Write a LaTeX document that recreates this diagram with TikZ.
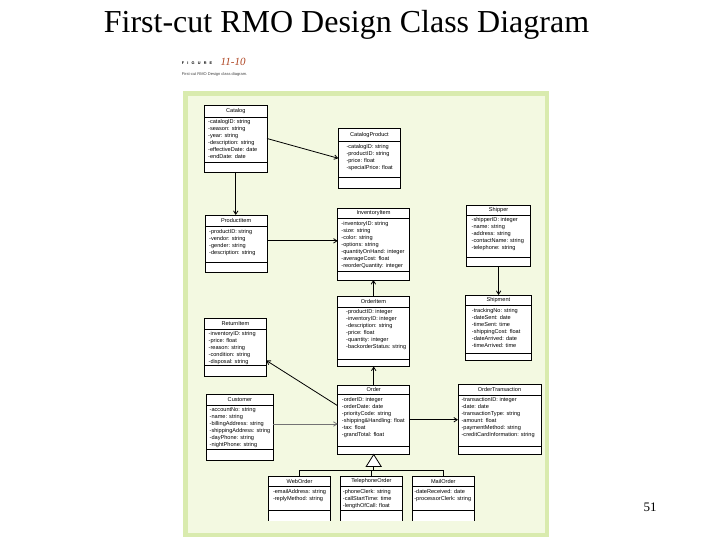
\documentclass[tikz,border=0pt]{standalone}
\usepackage{fontspec}
\setmainfont{Liberation Serif}
\newfontfamily\umlfont{Liberation Sans}
\usetikzlibrary{arrows.meta}
\definecolor{panelouter}{HTML}{D9EBAE}
\definecolor{panelinner}{HTML}{F3F9E1}
\definecolor{figred}{RGB}{175,70,35}
\tikzset{
  classframe/.style={draw=black, line width=0.8pt, fill=white, inner sep=0pt, outer sep=0pt},
  openframe/.style={draw=none, fill=white, inner sep=0pt, outer sep=0pt},
  classline/.style={draw=black, line width=0.8pt},
  cname/.style={font=\umlfont\fontsize{5.6}{7}\selectfont, inner sep=0pt},
  attrs/.style={font=\umlfont\fontsize{5.6}{7}\selectfont, align=left, inner sep=0pt, anchor=north west},
  assoc/.style={line width=0.8pt, -{Straight Barb[length=3.5pt,width=4.5pt]}},
  genline/.style={line width=0.8pt},
}
\def\attrinset{3.5}
% id, left, top, right, header-bottom, attr-bottom, bottom, title, attributes
\newcommand\umlclass[9]{%
  \node[classframe, minimum width={(#4)-(#2)}, minimum height={(#7)-(#3)}] (#1) at ({((#2)+(#4))/2},{((#3)+(#7))/2}) {};
  \draw[classline] (#2,#5) -- (#4,#5) (#2,#6) -- (#4,#6);
  \node[cname] (#1-name) at ({((#2)+(#4))/2},{((#5)+(#3))/2}) {#8};
  \node[attrs] (#1-attr) at ({(#2)+\attrinset},{(#5)+2.5}) {#9};
}
\newcommand\umlsub[9]{%
  \node[openframe, minimum width={(#4)-(#2)}, minimum height={(#7)-(#3)}] (#1) at ({((#2)+(#4))/2},{((#3)+(#7))/2}) {};
  \draw[classline] (#1.south west) -- (#1.north west) -- (#1.north east) -- (#1.south east);
  \draw[classline] (#2,#5) -- (#4,#5) (#2,#6) -- (#4,#6);
  \node[cname] (#1-name) at ({((#2)+(#4))/2},{((#5)+(#3))/2}) {#8};
  \node[attrs] (#1-attr) at ({(#2)+\attrinset},{(#5)+2.5}) {#9};
}
\begin{document}
\begin{tikzpicture}[x=1pt,y=-1pt]
\useasboundingbox (0,0) rectangle (720,540);
\fill[white] (0,0) rectangle (720,540);

% title
\node[font=\fontsize{32}{36}\selectfont, anchor=base, inner sep=0pt] (title) at (346.5,33) {First-cut RMO Design Class Diagram};
\node[font=\umlfont\bfseries\fontsize{3.8}{4}\selectfont, anchor=base west, inner sep=0pt] (figword) at (181.7,64.5)
  {F\hspace{3.2pt}I\hspace{3.2pt}G\hspace{3.2pt}U\hspace{3.2pt}R\hspace{3.2pt}E};
\node[font=\itshape\fontsize{11}{12}\selectfont, text=figred, anchor=base west, inner sep=0pt] (fignum) at (220.5,65.5) {11-10};
\node[font=\umlfont\fontsize{4}{5}\selectfont, text=black!75, anchor=base west, inner sep=0pt] (figcap) at (181.7,75.5) {First-cut RMO Design class diagram.};
\node[font=\fontsize{13}{15}\selectfont, inner sep=0pt] (pagenum) at (650,507) {51};

% panel
\fill[panelouter] (183,91) rectangle (549,537);
\fill[panelinner] (188,96) rectangle (545,533);

% classes
\umlclass{catalog}{204.5}{105}{267}{117}{162}{172}{Catalog}
  {-catalogID: string\\-season: string\\-year: string\\-description: string\\-effectiveDate: date\\-endDate: date}
\def\attrinset{8}
\umlclass{catalogproduct}{338.3}{128.3}{400.7}{141.7}{177.3}{188.3}{CatalogProduct}
  {-catalogID: string\\-productID: string\\-price: float\\-specialPrice: float}
\def\attrinset{4}
\umlclass{productitem}{205}{215}{267.3}{226.7}{262.7}{272.7}{ProductItem}
  {-productID: string\\-vendor: string\\-gender: string\\-description: string}
\def\attrinset{3.5}
\umlclass{inventoryitem}{337.7}{208.3}{409.3}{218.3}{271}{280}{InventoryItem}
  {-inventoryID: string\\-size: string\\-color: string\\-options: string\\-quantityOnHand: integer\\-averageCost: float\\-reorderQuantity: integer}
\def\attrinset{5}
\umlclass{shipper}{466.5}{205}{530.7}{215}{257.3}{266.7}{Shipper}
  {-shipperID: integer\\-name: string\\-address: string\\-contactName: string\\-telephone: string}
\def\attrinset{6}
\umlclass{shipment}{465.7}{295}{531}{305.5}{353}{360.7}{Shipment}
  {-trackingNo: string\\-dateSent: date\\-timeSent: time\\-shippingCost: float\\-dateArrived: date\\-timeArrived: time}
\def\attrinset{8.5}
\umlclass{orderitem}{337.5}{296.5}{409.3}{307}{359}{366.5}{OrderItem}
  {-productID: integer\\-inventoryID: integer\\-description: string\\-price: float\\-quantity: integer\\-backorderStatus: string}
\def\attrinset{4}
\umlclass{returnitem}{204.5}{318.3}{266.3}{329}{365}{376.7}{ReturnItem}
  {-inventoryID: string\\-price: float\\-reason: string\\-condition: string\\-disposal: string}
\def\attrinset{2.8}
\umlclass{customer}{206.7}{394}{273}{405}{449.5}{460}{Customer}
  {-accountNo: string\\-name: string\\-billingAddress: string\\-shippingAddress: string\\-dayPhone: string\\-nightPhone: string}
\def\attrinset{4}
\umlclass{order}{337.7}{385}{409.7}{394.5}{446}{454.5}{Order}
  {-orderID: integer\\-orderDate: date\\-priorityCode: string\\-shipping\&Handling: float\\-tax: float\\-grandTotal: float}
\def\attrinset{3.4}
\umlclass{ordertransaction}{458}{384.5}{541}{395}{446}{454.5}{OrderTransaction}
  {-transactionID: integer\\-date: date\\-transactionType: string\\-amount: float\\-paymentMethod: string\\-creditCardInformation: string}
\def\attrinset{4.5}
\umlsub{weborder}{268.3}{476}{330.7}{486.7}{510}{520.7}{WebOrder}
  {-emailAddress: string\\-replyMethod: string}
\def\attrinset{2}
\umlsub{telephoneorder}{340.7}{476}{402.3}{486.7}{510}{520.7}{TelephoneOrder}
  {-phoneClerk: string\\-callStartTime: time\\-lengthOfCall: float}
\def\attrinset{1.8}
\umlsub{mailorder}{412.3}{476}{474.3}{486.7}{510}{520.7}{MailOrder}
  {-dateReceived: date\\-processorClerk: string}

% associations
\draw[assoc] (catalog.east) -- (catalogproduct.west);
\draw[assoc] (catalog.south) -- (catalog.south |- productitem.north);
\draw[assoc] ([yshift=3pt]productitem.east) -- ([yshift=3pt]productitem.east -| inventoryitem.west);
\draw[assoc] (orderitem.north) -- (orderitem.north |- inventoryitem.south);
\draw[assoc] (shipper.south) -- (shipper.south |- shipment.north);
\draw[assoc] (order.north) -- (order.north |- orderitem.south);
\draw[assoc] ([yshift=14pt]order.west) -- ([yshift=-13pt]returnitem.east);
\draw[assoc, draw=black!55] ([yshift=3pt]customer.east) -- ([yshift=3pt]customer.east -| order.west);
\draw[assoc] (order.east) -- (order.east -| ordertransaction.west);

% generalization
\draw[genline, fill=white] (order.south) -- ++(7.5,12) -- ++(-15,0) -- cycle;
\path (order.south) ++(0,12) coordinate (genbase);
\path (genbase) ++(0,3.5) coordinate (bus);
\draw[genline] (genbase) -- (bus);
\draw[genline] (weborder.north) |- (bus);
\draw[genline] (mailorder.north) |- (bus);
\draw[genline] (telephoneorder.north) -- (telephoneorder.north |- bus);
\end{tikzpicture}
\end{document}
